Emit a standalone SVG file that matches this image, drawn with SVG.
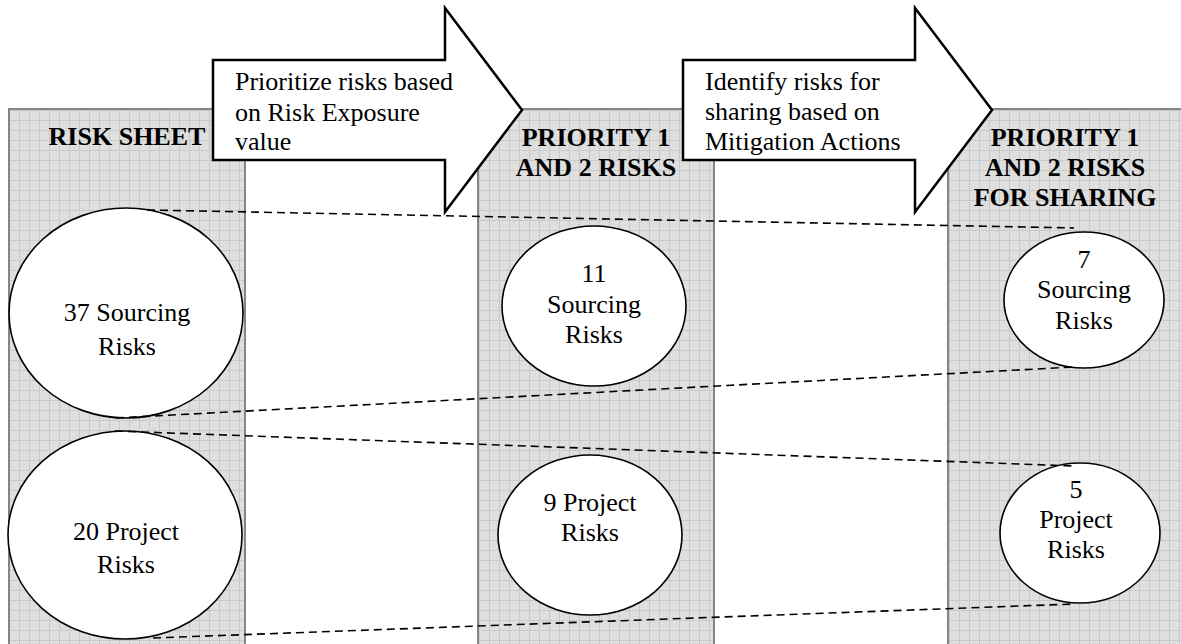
<svg xmlns="http://www.w3.org/2000/svg" width="1181" height="644" viewBox="0 0 1181 644">
  <defs>
    <!-- fine stipple texture of the shaded columns -->
    <pattern id="stipple" width="2" height="2" patternUnits="userSpaceOnUse">
      <rect width="2" height="2" fill="#e3e3e3"/>
      <rect width="1" height="1" fill="#d9d9d9"/>
      <rect x="1" y="1" width="1" height="1" fill="#dcdcdc"/>
    </pattern>
    <!-- 10 px graph-paper grid laid over the stipple -->
    <pattern id="grid" x="9" y="110" width="10" height="10" patternUnits="userSpaceOnUse">
      <path d="M0 0.5H10M0.5 0V10" stroke="#c9c9c9" stroke-width="1" fill="none"/>
    </pattern>
  </defs>
  <style>
    .col-fill { fill: url(#stipple); }
    .col-grid { fill: url(#grid); }
    .col-edge { fill: none; stroke: #858585; stroke-width: 2; }
    .bubble { fill: #ffffff; stroke: #000000; stroke-width: 1.6; }
    .arrow { fill: #ffffff; stroke: #000000; stroke-width: 2.5; stroke-linejoin: miter; }
    .txt { font-family: "Liberation Serif", "Times New Roman", serif; font-size: 26px; fill: #000000; }
    .head { font-family: "Liberation Serif", "Times New Roman", serif; font-size: 26px; font-weight: bold; fill: #000000; text-anchor: middle; }
    .mid { text-anchor: middle; }
    .link { fill: none; stroke: #000000; stroke-width: 1.6; stroke-dasharray: 8 5; }
  </style>

  <rect width="1181" height="644" fill="#ffffff"/>

  <!-- shaded stage columns -->
  <g id="col-risk-sheet">
    <rect class="col-fill" x="9" y="109" width="236" height="545"/>
    <rect class="col-grid" x="9" y="109" width="236" height="545"/>
    <rect class="col-edge" x="9" y="109" width="236" height="545"/>
    <text class="head" x="127" y="145">RISK SHEET</text>
  </g>
  <g id="col-priority">
    <rect class="col-fill" x="478" y="109" width="236" height="545"/>
    <rect class="col-grid" x="478" y="109" width="236" height="545"/>
    <rect class="col-edge" x="478" y="109" width="236" height="545"/>
    <text class="head" x="596" y="146">PRIORITY 1</text>
    <text class="head" x="596" y="176">AND 2 RISKS</text>
  </g>
  <g id="col-sharing">
    <rect class="col-fill" x="948" y="109" width="240" height="545"/>
    <rect class="col-grid" x="948" y="109" width="240" height="545"/>
    <rect class="col-edge" x="948" y="109" width="240" height="545"/>
    <text class="head" x="1065" y="146">PRIORITY 1</text>
    <text class="head" x="1065" y="176">AND 2 RISKS</text>
    <text class="head" x="1065" y="206">FOR SHARING</text>
  </g>

  <!-- process arrows -->
  <g id="arrow-prioritize">
    <polygon class="arrow" points="213,60 445,60 445,8 522,110 445,212 445,160 213,160"/>
    <text class="txt" x="235" y="89.5">Prioritize risks based</text>
    <text class="txt" x="235" y="120.5">on Risk Exposure</text>
    <text class="txt" x="235" y="150">value</text>
  </g>
  <g id="arrow-identify">
    <polygon class="arrow" points="683,60 915,60 915,8 992,110 915,212 915,160 683,160"/>
    <text class="txt" x="705" y="90">Identify risks for</text>
    <text class="txt" x="705" y="120">sharing based on</text>
    <text class="txt" x="705" y="150">Mitigation Actions</text>
  </g>

  <!-- risk counts -->
  <g id="sheet-sourcing">
    <ellipse class="bubble" cx="126" cy="313" rx="117" ry="105"/>
    <text class="txt mid" x="127" y="321">37 Sourcing</text>
    <text class="txt mid" x="127" y="355">Risks</text>
  </g>
  <g id="sheet-project">
    <ellipse class="bubble" cx="125" cy="535" rx="117" ry="104"/>
    <text class="txt mid" x="126" y="540">20 Project</text>
    <text class="txt mid" x="126" y="573">Risks</text>
  </g>
  <g id="priority-sourcing">
    <ellipse class="bubble" cx="594" cy="306" rx="92" ry="80"/>
    <text class="txt mid" x="594" y="282">11</text>
    <text class="txt mid" x="594" y="312.5">Sourcing</text>
    <text class="txt mid" x="594" y="343">Risks</text>
  </g>
  <g id="priority-project">
    <ellipse class="bubble" cx="590" cy="535" rx="92" ry="80"/>
    <text class="txt mid" x="590" y="511">9 Project</text>
    <text class="txt mid" x="590" y="541">Risks</text>
  </g>
  <g id="sharing-sourcing">
    <ellipse class="bubble" cx="1084" cy="300" rx="80" ry="68"/>
    <text class="txt mid" x="1084" y="267.5">7</text>
    <text class="txt mid" x="1084" y="298">Sourcing</text>
    <text class="txt mid" x="1084" y="328.5">Risks</text>
  </g>
  <g id="sharing-project">
    <ellipse class="bubble" cx="1080" cy="533" rx="80" ry="70"/>
    <text class="txt mid" x="1076" y="498">5</text>
    <text class="txt mid" x="1076" y="528">Project</text>
    <text class="txt mid" x="1076" y="558">Risks</text>
  </g>

  <!-- dashed tracing lines between the stages -->
  <g id="connectors">
    <line class="link" x1="147" y1="210" x2="1074" y2="228"/>
    <line class="link" x1="116" y1="418" x2="1074" y2="367"/>
    <line class="link" x1="115" y1="431" x2="1074" y2="466"/>
    <line class="link" x1="153" y1="638" x2="1074" y2="604"/>
  </g>
</svg>
